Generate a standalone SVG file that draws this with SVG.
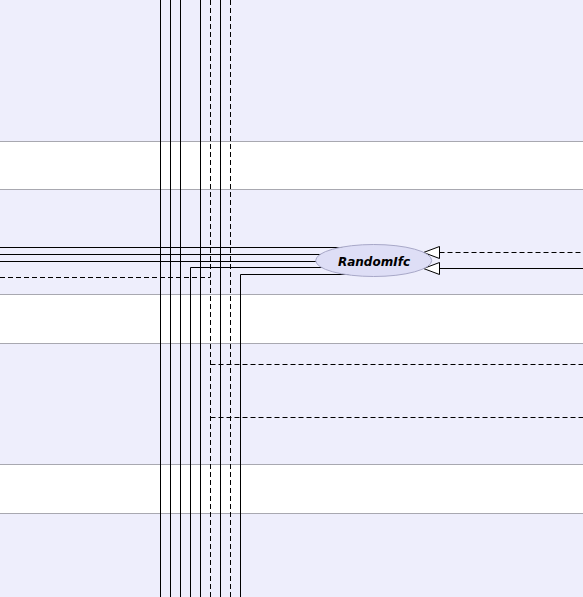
<svg xmlns="http://www.w3.org/2000/svg" width="583" height="597" viewBox="0 0 583 597">
  <style>
    .band { fill: #EEEEFC; }
    .gap { fill: #FFFFFF; }
    .rule { stroke: #A8A8B0; stroke-width: 1; }
    .wire { fill: none; stroke: #000000; stroke-width: 1; }
    .dash { fill: none; stroke: #000000; stroke-width: 1; stroke-dasharray: 5,3; }
    .head { fill: #FFFFFF; stroke: #000000; stroke-width: 1; }
    .node { fill: #DEDEF6; stroke: #A8A8C8; stroke-width: 1; }
    .label { font-family: "DejaVu Sans", "Liberation Sans", sans-serif; font-size: 12px; font-weight: bold; font-style: italic; fill: #000000; }
  </style>

  <!-- alternating row bands -->
  <g id="bands">
    <rect class="band" x="0" y="0" width="583" height="141"/>
    <rect class="gap" x="0" y="141" width="583" height="48"/>
    <rect class="band" x="0" y="189" width="583" height="105"/>
    <rect class="gap" x="0" y="294" width="583" height="49"/>
    <rect class="band" x="0" y="343" width="583" height="121"/>
    <rect class="gap" x="0" y="464" width="583" height="49"/>
    <rect class="band" x="0" y="513" width="583" height="84"/>
    <line class="rule" x1="0" y1="141.5" x2="583" y2="141.5"/>
    <line class="rule" x1="0" y1="189.5" x2="583" y2="189.5"/>
    <line class="rule" x1="0" y1="294.5" x2="583" y2="294.5"/>
    <line class="rule" x1="0" y1="343.5" x2="583" y2="343.5"/>
    <line class="rule" x1="0" y1="464.5" x2="583" y2="464.5"/>
    <line class="rule" x1="0" y1="513.5" x2="583" y2="513.5"/>
  </g>

  <g id="connectors">
    <!-- vertical trunks -->
    <line class="wire" x1="160.5" y1="0" x2="160.5" y2="597"/>
    <line class="wire" x1="170.5" y1="0" x2="170.5" y2="597"/>
    <line class="wire" x1="180.5" y1="0" x2="180.5" y2="597"/>
    <line class="wire" x1="200.5" y1="0" x2="200.5" y2="597"/>
    <line class="dash" x1="210.5" y1="0" x2="210.5" y2="597"/>
    <line class="wire" x1="220.5" y1="0" x2="220.5" y2="597"/>
    <line class="dash" x1="230.5" y1="0" x2="230.5" y2="597"/>

    <!-- links into RandomIfc from the left -->
    <line class="wire" x1="0" y1="247.5" x2="360" y2="247.5"/>
    <line class="wire" x1="0" y1="254.5" x2="360" y2="254.5"/>
    <line class="wire" x1="0" y1="261.5" x2="360" y2="261.5"/>
    <polyline class="wire" points="190.5,597 190.5,267.5 360,267.5"/>
    <polyline class="wire" points="240.5,597 240.5,274.5 360,274.5"/>
    <line class="dash" x1="0" y1="277.5" x2="210.5" y2="277.5"/>

    <!-- branches to the right -->
    <line class="dash" x1="210.5" y1="364.5" x2="583" y2="364.5"/>
    <line class="dash" x1="210.5" y1="417.5" x2="583" y2="417.5"/>

    <!-- realisation / generalisation arrows from the right -->
    <line class="dash" x1="439.5" y1="252.5" x2="583" y2="252.5"/>
    <line class="wire" x1="439.5" y1="268.5" x2="583" y2="268.5"/>
    <polygon class="head" points="423.5,252.5 439.5,246.5 439.5,258.5"/>
    <polygon class="head" points="423.5,268.5 439.5,262.5 439.5,274.5"/>
  </g>

  <g id="RandomIfc">
    <ellipse class="node" cx="373.7" cy="260.5" rx="58" ry="16"/>
    <text class="label" x="374" y="266" text-anchor="middle">RandomIfc</text>
  </g>
</svg>
